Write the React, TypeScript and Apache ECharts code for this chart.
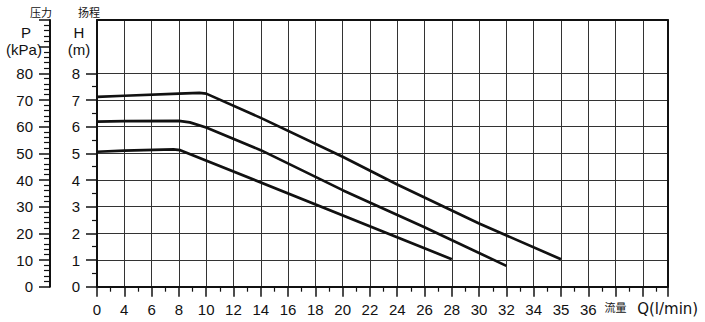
import React, { useEffect, useRef } from "react";
import * as echarts from "echarts";

// X tick labels (flow Q, l/min) — note the non-uniform scale printed on the chart
const xTickQ = [0, 4, 6, 8, 10, 12, 14, 16, 18, 20, 22, 24, 26, 28, 30, 32, 34, 35, 36];
const xTickLabels = ["0", "4", "6", "8", "10", "12", "14", "16", "18", "20", "22", "24", "26", "28", "30", "32", "34", "35", "36"];
const xUnitLabel = "流量";
const xAxisName = "Q(l/min)";

// Y tick labels
const hLabelValues = [0, 1, 2, 3, 4, 5, 6, 7, 8];
const hMinorValues = [0.5, 1.5, 2.5, 3.5, 4.5, 5.5, 6.5, 7.5];
const pLabelValues = [0, 10, 20, 30, 40, 50, 60, 70, 80];

// Curves: flow Q (l/min) and head H (m)
const curveHighQ = [0, 4, 8, 9.5, 10, 14, 20, 24, 30, 35];
const curveHighH = [7.12, 7.16, 7.24, 7.27, 7.24, 6.33, 4.87, 3.83, 2.37, 1.03];
const curveMidQ = [0, 4, 8, 8.8, 10, 14, 20, 26, 32];
const curveMidH = [6.19, 6.21, 6.22, 6.16, 5.97, 5.12, 3.62, 2.23, 0.78];
const curveLowQ = [0, 4, 7.6, 8.1, 28];
const curveLowH = [5.06, 5.1, 5.15, 5.12, 1.03];

const X_MAX = 20.91;

function qToIdx(q: number): number {
  for (let i = 0; i < xTickQ.length - 1; i++) {
    if (q <= xTickQ[i + 1]) {
      return i + (q - xTickQ[i]) / (xTickQ[i + 1] - xTickQ[i]);
    }
  }
  return xTickQ.length - 1;
}

function build(qs: number[], hs: number[]) {
  return qs.map((q, i) => [qToIdx(q), hs[i]]);
}

const FONT = "Liberation Sans";
const INK = "#111";

function label(text: string, x: number, y: number, size = 15, family = FONT) {
  return {
    type: "text",
    x,
    y,
    style: { text, fontSize: size, lineHeight: size - 2, fontFamily: family, fill: INK, align: "center", verticalAlign: "middle" },
  };
}

export default function App() {
  const ref = useRef<HTMLDivElement>(null);
  useEffect(() => {
    if (!ref.current) return;
    const chart = echarts.init(ref.current, null, { renderer: "svg" });
    const xLabelValues = [...xTickLabels.map((_, i) => i), xTickLabels.length, X_MAX];
    const curveStyle = { color: INK, width: 2.7 };
    chart.setOption({
      animation: false,
      backgroundColor: "#fff",
      grid: { left: 97, right: 37.3, top: 20, bottom: 35.3 },
      xAxis: [
        {
          type: "value",
          min: 0,
          max: X_MAX,
          interval: 1,
          position: "bottom",
          axisLine: { show: true, onZero: false, lineStyle: { color: INK, width: 2 } },
          axisTick: { show: true, length: 10, lineStyle: { color: INK, width: 1.5 } },
          minorTick: { show: true, splitNumber: 2, length: 5, lineStyle: { color: INK, width: 1.2 } },
          axisLabel: {
            customValues: xLabelValues,
            margin: 15,
            fontSize: 15,
            fontFamily: FONT,
            color: INK,
            formatter: (v: number) => {
              const i = Math.round(v);
              if (i < xTickLabels.length && Math.abs(v - i) < 1e-6) return xTickLabels[i];
              if (i === xTickLabels.length && Math.abs(v - i) < 1e-6) return "{cn|" + xUnitLabel + "}";
              return "{q|" + xAxisName + "}";
            },
            rich: {
              cn: { fontSize: 11, fontFamily: "Noto Sans CJK SC", color: INK },
              q: { fontSize: 15, fontFamily: "DejaVu Sans", color: INK },
            },
          },
          splitLine: { show: true, lineStyle: { color: "#333", width: 1 } },
        },
        {
          type: "value",
          min: 0,
          max: X_MAX,
          position: "top",
          axisLine: { show: true, onZero: false, lineStyle: { color: INK, width: 2 } },
          axisTick: { show: false },
          axisLabel: { show: false },
          splitLine: { show: false },
        },
      ],
      yAxis: [
        {
          type: "value",
          min: 0,
          max: 10,
          interval: 1,
          position: "left",
          axisLine: { show: true, onZero: false, lineStyle: { color: INK, width: 2 } },
          axisTick: { show: true, customValues: hLabelValues, length: 11, lineStyle: { color: INK, width: 1.5 } },
          axisLabel: { customValues: hLabelValues, margin: 17, fontSize: 15, fontFamily: FONT, color: INK },
          splitLine: { show: true, lineStyle: { color: "#333", width: 1 } },
        },
        {
          type: "value",
          min: 0,
          max: 10,
          position: "left",
          axisLine: { show: false, onZero: false },
          axisTick: { show: true, customValues: hMinorValues, length: 5, lineStyle: { color: INK, width: 1.2 } },
          axisLabel: { show: false },
          splitLine: { show: false },
        },
        {
          type: "value",
          min: 0,
          max: 100,
          interval: 10,
          position: "left",
          offset: 47,
          axisLine: { show: true, onZero: false, lineStyle: { color: INK, width: 2 } },
          axisTick: { show: true, length: 11, lineStyle: { color: INK, width: 1.5 } },
          minorTick: { show: true, splitNumber: 5, length: 6, lineStyle: { color: INK, width: 1.2 } },
          axisLabel: { customValues: pLabelValues, margin: 17, fontSize: 15, fontFamily: FONT, color: INK },
          splitLine: { show: false },
        },
        {
          type: "value",
          min: 0,
          max: 10,
          position: "right",
          axisLine: { show: true, onZero: false, lineStyle: { color: INK, width: 2 } },
          axisTick: { show: false },
          axisLabel: { show: false },
          splitLine: { show: false },
        },
      ],
      graphic: [
        label("压力", 41, 12, 11, "Noto Sans CJK SC"),
        label("扬程", 89, 12, 11, "Noto Sans CJK SC"),
        label("P", 26, 32),
        label("(kPa)", 24, 49),
        label("H", 79, 32),
        label("(m)", 79, 49),
      ],
      series: [
        { type: "line", data: build(curveHighQ, curveHighH), showSymbol: false, lineStyle: curveStyle, xAxisIndex: 0, yAxisIndex: 0 },
        { type: "line", data: build(curveMidQ, curveMidH), showSymbol: false, lineStyle: curveStyle, xAxisIndex: 0, yAxisIndex: 0 },
        { type: "line", data: build(curveLowQ, curveLowH), showSymbol: false, lineStyle: curveStyle, xAxisIndex: 0, yAxisIndex: 0 },
      ],
    });
    return () => chart.dispose();
  }, []);
  return (
    <div
      ref={ref}
      style={{ position: "fixed", left: 0, top: 0, width: 705, height: 322, background: "#fff" }}
    />
  );
}
